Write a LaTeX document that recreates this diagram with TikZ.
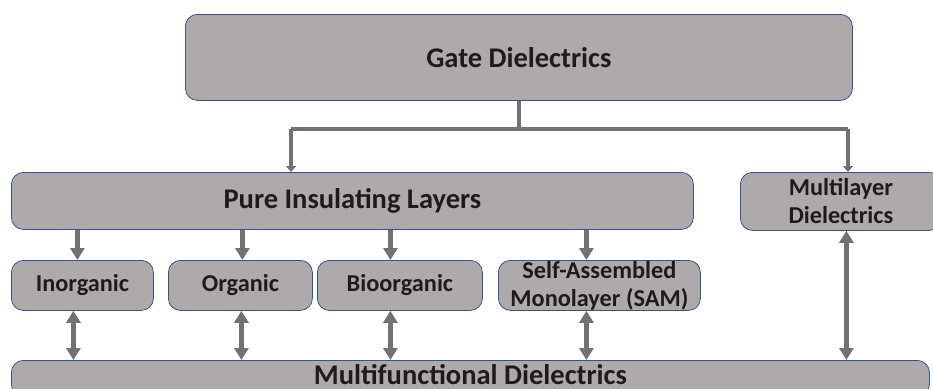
\documentclass[tikz,border=0pt]{standalone}
\usepackage{fontspec}
\setmainfont{Carlito}
\usetikzlibrary{arrows.meta,positioning}
\definecolor{boxfill}{HTML}{AEAAAA}
\definecolor{boxline}{HTML}{2F5597}
\definecolor{arrgray}{HTML}{767171}
\definecolor{txt}{HTML}{1E1B1B}

\begin{document}
\begin{tikzpicture}[x=1pt,y=-1pt,
  box/.style={draw=boxline,line width=0.8pt,fill=boxfill,rounded corners=12pt,
    text=txt,inner sep=0pt,align=center,anchor=north west},
  bigtxt/.style={font=\fontsize{28.5}{32}\selectfont\bfseries},
  smalltxt/.style={font=\fontsize{24.3}{28}\selectfont\bfseries},
  link/.style={draw=arrgray,line width=4.5pt},
  toparr/.style={link,line width=4pt,-{Triangle[width=10pt,length=6pt]}},
  arr/.style={link,-{Triangle[width=14pt,length=12pt]}},
  dbl/.style={link,{Triangle[width=14pt,length=12pt]}-{Triangle[width=14pt,length=12pt]}}]
  \useasboundingbox (0,0) rectangle (933,388);

  \node (gate) [box,bigtxt,minimum width=667pt,minimum height=86pt] at (185,14) {Gate Dielectrics};
  \node (pure) [box,bigtxt,minimum width=682pt,minimum height=57pt] at (11,172) {Pure Insulating Layers};
  \node (multilayer) [box,smalltxt,minimum width=201pt,minimum height=58pt] at (740,172) {Multilayer\\Dielectrics};

  \node (inorg) [box,smalltxt,minimum width=142pt,minimum height=50pt] at (11,260) {Inorganic};
  \node (org) [box,smalltxt,minimum width=144pt,minimum height=50pt] at (168,260) {Organic};
  \node (bio) [box,smalltxt,minimum width=165pt,minimum height=50pt] at (317,260) {Bioorganic};
  \node (sam) [box,smalltxt,minimum width=202pt,minimum height=50pt] at (498,260) {Self-Assembled\\Monolayer (SAM)};

  \node (multi) [box,bigtxt,minimum width=918pt,minimum height=36pt,text depth=8pt] at (11,360) {Multifunctional Dielectrics};

  % split below the top box
  \coordinate (jl) at (291,129);
  \coordinate (jr) at (848,129);
  \draw[link] (gate.south) -- (gate.south |- jl);
  \draw[link] (jl) -- (jr);
  \draw[toparr] (jl) -- (jl |- pure.north);
  \draw[toparr] (jr) -- (jr |- multilayer.north);

  % branches
  \foreach \n/\d/\e in {inorg/-5/-9, org/2/1, bio/-9.5/-9.5, sam/-13/-13} {
    \draw[arr] ([xshift=\d pt]\n.north |- pure.south) -- ([xshift=\d pt]\n.north);
    \draw[dbl] ([xshift=\e pt]\n.south) -- ([xshift=\e pt]\n.south |- multi.north);
  }
  \draw[dbl] ([xshift=5.5pt]multilayer.south) -- ([xshift=5.5pt]multilayer.south |- multi.north);
\end{tikzpicture}
\end{document}
